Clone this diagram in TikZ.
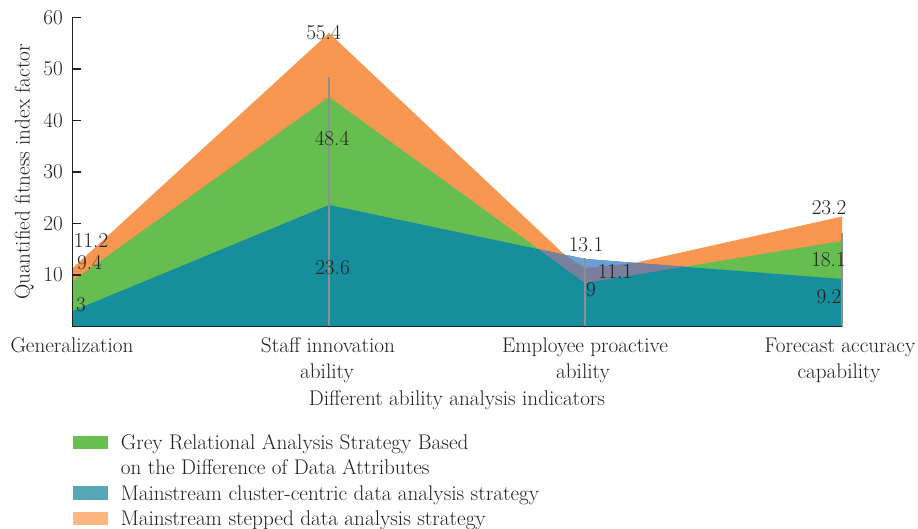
\documentclass[tikz,border=0pt]{standalone}
\usepackage{tikz}
\definecolor{corange}{RGB}{247,151,82}
\definecolor{cgreen}{RGB}{102,189,80}
\definecolor{cteal}{RGB}{22,142,156}
\definecolor{cblue}{RGB}{106,159,216}
\definecolor{cgrey}{RGB}{122,127,155}
\definecolor{cdrop}{RGB}{143,143,143}
\definecolor{ctext}{RGB}{35,31,32}
\definecolor{lgreen}{RGB}{105,191,79}
\definecolor{lteal}{RGB}{86,168,182}
\definecolor{lorange}{RGB}{253,182,128}
\begin{document}
\begin{tikzpicture}[x=1pt,y=-1pt,
  font=\fontsize{21.2}{25}\selectfont,
  every node/.style={text=ctext, inner sep=0pt},
  vlab/.style={anchor=center},
  xlab/.style={anchor=base},
  leglab/.style={anchor=base west},
  swatch/.style={minimum width=35pt, minimum height=13.3pt, draw=none},
  axisline/.style={draw=ctext, line width=1.5pt},
  dropline/.style={draw=cdrop, line width=1.8pt}]
\useasboundingbox (0,0) rectangle (918,529);

% series coordinates
\coordinate (B1) at (72.7,326.5); \coordinate (B4) at (842,326.5);
\coordinate (O1) at (72.7,268); \coordinate (O2) at (329,33);
\coordinate (O3) at (585,274); \coordinate (O4) at (842,216.5);
\coordinate (G1) at (72.7,281); \coordinate (G2) at (329,97);
\coordinate (G3) at (585,283); \coordinate (G4) at (842,241);
\coordinate (T1) at (72.7,311); \coordinate (T2) at (329,205);
\coordinate (T3) at (585,259); \coordinate (T4) at (842,279);
\coordinate (L) at (538.4,249.2); \coordinate (R) at (684.5,266.7);
\coordinate (BL) at (564.5,254.7); \coordinate (BR) at (635,262.9);
\coordinate (BM) at (585,268);

\fill[corange] (B1) -- (O1) -- (O2) -- (O3) -- (O4) -- (B4) -- cycle;
\fill[cgreen] (B1) -- (G1) -- (G2) -- (G3) -- (G4) -- (B4) -- cycle;
\fill[cteal] (B1) -- (T1) -- (T2) -- (T3) -- (T4) -- (B4) -- cycle;
\fill[cgrey] (L) -- (T3) -- (R) -- (G3) -- cycle;
\fill[cblue] (BL) -- (T3) -- (BR) -- (BM) -- cycle;

% drop lines
\coordinate (D2t) at (329,77);  \coordinate (D2b) at (329,326.5);
\coordinate (D3t) at (585,258); \coordinate (D3b) at (585,326.5);
\coordinate (D4t) at (842,233); \coordinate (D4b) at (842,326.5);
\draw[dropline] (D2t) -- (D2b);
\draw[dropline] (D3t) -- (D3b);
\draw[dropline] (D4t) -- (D4b);

% axes
\coordinate (Ytop) at (72.7,17.3);
\draw[axisline] (Ytop) -- (B1) -- (B4);
\foreach \yy/\lab in {17.3/60,68.8/50,120.3/40,171.8/30,223.3/20,274.8/10}{
  \draw[axisline] (72.7,\yy) -- (81,\yy);
  \node[anchor=east] (yt\lab) at (63,\yy) {\lab};
}
\node[anchor=base, rotate=90] (ytitle) at (29.5,172) {Quantified fitness index factor};

% value labels
\node[vlab] (v1o) at (91,240) {11.2};
\node[vlab] (v1g) at (89.5,263) {9.4};
\node[vlab] (v1t) at (81,305) {3};
\node[vlab] (v2o) at (323.5,32.5) {55.4};
\node[vlab] (v2g) at (332,139) {48.4};
\node[vlab] (v2t) at (332.5,268) {23.6};
\node[vlab] (v3o) at (586,245) {13.1};
\node[vlab] (v3g) at (615,271) {11.1};
\node[vlab] (v3t) at (591,290) {9};
\node[vlab] (v4o) at (829,208) {23.2};
\node[vlab] (v4g) at (828.5,260) {18.1};
\node[vlab] (v4t) at (829,296.5) {9.2};

% x labels
\node[xlab] (x1) at (72,352.5) {Generalization};
\node[xlab] (x2a) at (328,352.5) {Staff innovation};
\node[xlab] (x2b) at (327,378.5) {ability};
\node[xlab] (x3a) at (585,352.5) {Employee proactive};
\node[xlab] (x3b) at (583,378.5) {ability};
\node[xlab] (x4a) at (840,352.5) {Forecast accuracy};
\node[xlab] (x4b) at (839,378.5) {capability};
\node[xlab] (xtitle) at (457,405.5) {Different ability analysis indicators};

% legend
\node[swatch, fill=lgreen] (sw1) at (90.2,442.7) {};
\node[swatch, fill=lteal] (sw2) at (90.2,493) {};
\node[swatch, fill=lorange] (sw3) at (90.2,518.7) {};
\node[leglab] (lg1a) at (120.7,449.5) {Grey Relational Analysis Strategy Based};
\node[leglab] (lg1b) at (120.7,474.5) {on the Difference of Data Attributes};
\node[leglab] (lg2) at (120.7,500) {Mainstream cluster-centric data analysis strategy};
\node[leglab] (lg3) at (120.7,525) {Mainstream stepped data analysis strategy};
\end{tikzpicture}
\end{document}
